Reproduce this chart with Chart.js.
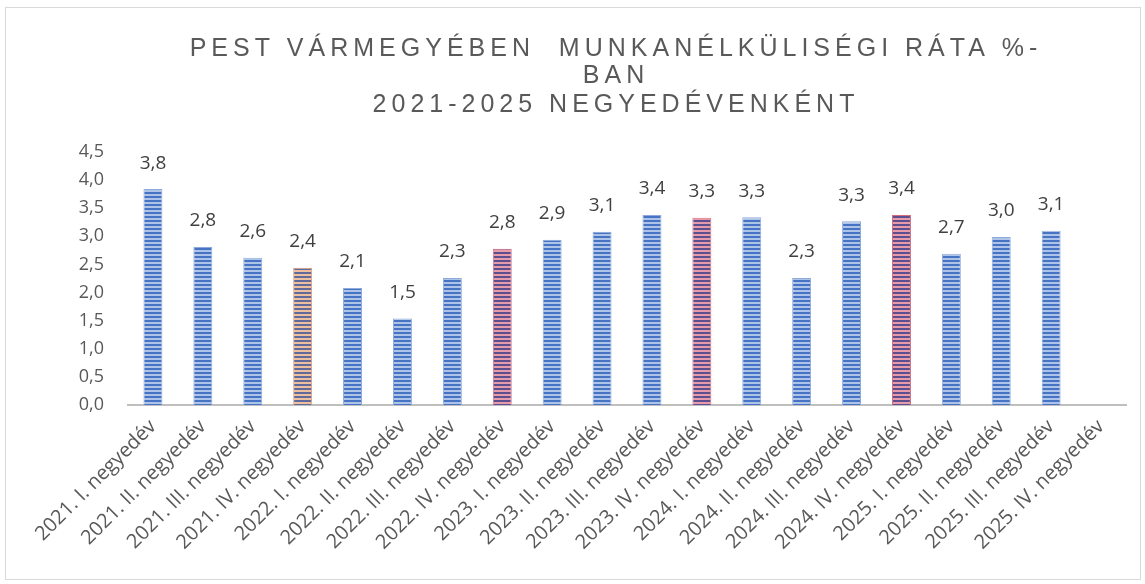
<!DOCTYPE html>
<html lang="hu">
<head>
    <meta charset="UTF-8">
    <title>Pest vármegye munkanélküliségi ráta</title>
    <script src="https://cdn.jsdelivr.net/npm/chart.js"></script>
    <style>
        body {
            margin: 0;
            padding: 0;
            background-color: white;
        }

        .frame {
            position: absolute;
            left: 5px;
            top: 7px;
            width: 1134px;
            height: 571px;
            border: 1px solid #d9d9d9;
            pointer-events: none;
        }

        .chart-wrapper {
            position: absolute;
            left: 0;
            top: 0;
            width: 1145px;
            height: 584px;
        }
    </style>
</head>
<body>
    <div class="chart-wrapper">
        <canvas id="rateChart"></canvas>
    </div>
    <div class="frame"></div>

    <script>
        // quarters on the x axis
        const quarters = [
            '2021. I. negyedév', '2021. II. negyedév', '2021. III. negyedév', '2021. IV. negyedév',
            '2022. I. negyedév', '2022. II. negyedév', '2022. III. negyedév', '2022. IV. negyedév',
            '2023. I. negyedév', '2023. II. negyedév', '2023. III. negyedév', '2023. IV. negyedév',
            '2024. I. negyedév', '2024. II. negyedév', '2024. III. negyedév', '2024. IV. negyedév',
            '2025. I. negyedév', '2025. II. negyedév', '2025. III. negyedév', '2025. IV. negyedév'
        ];

        // unemployment rate, % (labels show 1 decimal)
        const rates = [3.84, 2.81, 2.62, 2.44, 2.08, 1.54, 2.26, 2.78, 2.94, 3.08, 3.38, 3.33, 3.34, 2.26, 3.27, 3.38, 2.69, 2.99, 3.10, null];

        // which bars are highlighted (normal / orange / red)
        const barKind = ['b', 'b', 'b', 'o', 'b', 'b', 'b', 'r', 'b', 'b', 'b', 'r', 'b', 'b', 'b', 'r', 'b', 'b', 'b', 'b'];

        const titleLines = ['PEST VÁRMEGYÉBEN  MUNKANÉLKÜLISÉGI RÁTA %-', 'BAN', '2021-2025 NEGYEDÉVENKÉNT'];
        const yTicks = [0, 0.5, 1, 1.5, 2, 2.5, 3, 3.5, 4, 4.5];

        function fmt(v) {
            return v.toFixed(1).replace('.', ',');
        }

        // horizontal stripe fill like the Excel pattern
        function stripes(dark, light) {
            const c = document.createElement('canvas');
            c.width = 4;
            c.height = 4;
            const g = c.getContext('2d');
            g.fillStyle = light;
            g.fillRect(0, 0, 4, 4);
            g.fillStyle = dark;
            g.fillRect(0, 0, 4, 2);
            return g.createPattern(c, 'repeat');
        }

        const fills = {
            b: stripes('#4673c4', '#aec3e8'),
            o: stripes('#5f6b9c', '#efbe9e'),
            r: stripes('#5c4f90', '#e79aa9')
        };
        const edges = { b: '#8eaadb', o: '#e3a07a', r: '#d86a7c' };

        // title with letter spacing
        const titlePlugin = {
            id: 'spacedTitle',
            afterDraw(chart) {
                const ctx = chart.ctx;
                const rows = [49, 76, 105];
                ctx.save();
                ctx.font = '25px "Liberation Sans", Arial, sans-serif';
                ctx.fillStyle = '#595959';
                ctx.textAlign = 'center';
                ctx.textBaseline = 'middle';
                ctx.letterSpacing = '5px';
                titleLines.forEach((t, i) => ctx.fillText(t, 616, rows[i]));
                ctx.restore();
            }
        };

        // value labels above bars
        const labelPlugin = {
            id: 'barLabels',
            afterDatasetsDraw(chart) {
                const ctx = chart.ctx;
                const meta = chart.getDatasetMeta(0);
                ctx.save();
                ctx.font = '19px "Open Sans", sans-serif';
                ctx.fillStyle = '#404040';
                ctx.textAlign = 'center';
                ctx.textBaseline = 'middle';
                meta.data.forEach((bar, i) => {
                    if (rates[i] == null) return;
                    ctx.fillText(fmt(rates[i]), bar.x, bar.y - 26);
                });
                ctx.restore();
            }
        };

        const ctx = document.getElementById('rateChart').getContext('2d');
        const rateChart = new Chart(ctx, {
            type: 'bar',
            data: {
                labels: quarters,
                datasets: [{
                    data: rates,
                    backgroundColor: barKind.map(k => fills[k]),
                    borderColor: barKind.map(k => edges[k]),
                    borderWidth: 1,
                    barPercentage: 0.76,
                    categoryPercentage: 0.5
                }]
            },
            options: {
                responsive: true,
                maintainAspectRatio: false,
                animation: false,
                layout: {
                    padding: { top: 152, right: 19, left: 0, bottom: 0 }
                },
                plugins: {
                    legend: { display: false },
                    title: { display: false },
                    tooltip: { enabled: false }
                },
                scales: {
                    x: {
                        grid: { display: false },
                        border: { color: '#bfbfbf', width: 2 },
                        ticks: {
                            color: '#595959',
                            font: { family: 'Open Sans', size: 20 },
                            maxRotation: 45,
                            minRotation: 45,
                            autoSkip: false,
                            padding: 2
                        },
                        afterFit(scale) { scale.height = 179; }
                    },
                    y: {
                        min: 0,
                        max: 4.5,
                        grid: { display: false },
                        border: { display: false },
                        afterBuildTicks(scale) {
                            scale.ticks = yTicks.map(v => ({ value: v }));
                        },
                        ticks: {
                            color: '#595959',
                            font: { family: 'Open Sans', size: 18 },
                            padding: 16,
                            callback: v => fmt(v)
                        },
                        afterFit(scale) { scale.width = 128; }
                    }
                }
            },
            plugins: [titlePlugin, labelPlugin]
        });
    </script>
</body>
</html>
